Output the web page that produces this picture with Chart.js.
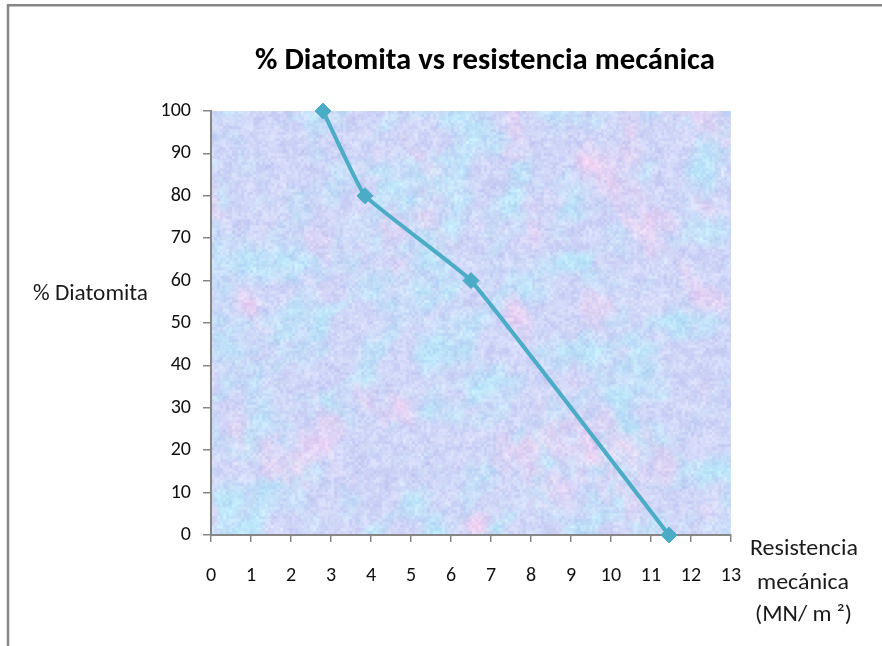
<!DOCTYPE html>
<html>
<head>
<meta charset="utf-8">
<script src="https://cdn.jsdelivr.net/npm/chart.js@4.4.1/dist/chart.umd.min.js"></script>
<style>
  html, body { margin: 0; padding: 0; background: #ffffff; }
  #wrap { width: 882px; height: 646px; position: relative; }
  canvas { display: block; }
</style>
</head>
<body>
<div id="wrap"><canvas id="chart" width="882" height="646"></canvas></div>
<script>
// Resistencia mecánica (MN/m²) for each diatomite percentage
const resistencia = [2.8, 3.85, 6.5, 11.45];
const diatomita = [100, 80, 60, 0];

const chartTitle = '% Diatomita vs resistencia mecánica';
const yTitle = '% Diatomita';
const xTitleLines = ['Resistencia', 'mecánica', '(MN/ m ²)'];

const FONT = 'Carlito, Lato, "Open Sans", sans-serif';
const AXIS_GRAY = '#868686';
const LINE_COLOR = '#4BACC6';

// Mottled blue / lilac / pink tissue texture for the plot area
function makeTissue(w, h) {
  const c = document.createElement('canvas');
  c.width = w; c.height = h;
  const g = c.getContext('2d');
  const img = g.createImageData(w, h);
  const d = img.data;
  function hash(x, y, s) {
    const n = Math.sin(x * 127.1 + y * 311.7 + s * 74.7) * 43758.5453;
    return n - Math.floor(n);
  }
  function noise(x, y, s) {
    const xi = Math.floor(x), yi = Math.floor(y);
    const xf = x - xi, yf = y - yi;
    const u = xf * xf * (3 - 2 * xf), v = yf * yf * (3 - 2 * yf);
    const a = hash(xi, yi, s), b = hash(xi + 1, yi, s);
    const c2 = hash(xi, yi + 1, s), e = hash(xi + 1, yi + 1, s);
    return a + (b - a) * u + (c2 - a) * v + (a - b - c2 + e) * u * v;
  }
  function fbm(x, y, s) {
    let t = 0, amp = 0.5, f = 1;
    for (let o = 0; o < 4; o++) {
      t += amp * noise(x * f, y * f, s + o * 13);
      f *= 2; amp *= 0.5;
    }
    return t / 0.9375;
  }
  const clamp = v => Math.max(0, Math.min(1, v));
  const lav = [208, 214, 247];
  const cyan = [188, 228, 249];
  const pink = [238, 208, 242];
  for (let y = 0; y < h; y++) {
    for (let x = 0; x < w; x++) {
      const hb = fbm(x / 30 + y / 90, y / 30, 1);
      const hp = fbm(x / 38, y / 45 - x / 120, 5);
      const lum = fbm(x / 8, y / 8, 9);
      const grain = hash(Math.floor(x / 3), Math.floor(y / 3), 3);
      const cb = clamp((hb - 0.42) * 3.0);
      const cp = clamp((hp - 0.56) * 3.0);
      let r = lav[0] + (cyan[0] - lav[0]) * cb;
      let gg = lav[1] + (cyan[1] - lav[1]) * cb;
      let b = lav[2] + (cyan[2] - lav[2]) * cb;
      r += (pink[0] - r) * cp;
      gg += (pink[1] - gg) * cp;
      b += (pink[2] - b) * cp;
      const shade = (lum - 0.5) * 30 + (grain - 0.5) * 16;
      const i = (y * w + x) * 4;
      d[i] = clamp((r + shade) / 255) * 255;
      d[i + 1] = clamp((gg + shade) / 255) * 255;
      d[i + 2] = clamp((b + shade * 0.4) / 255) * 255;
      d[i + 3] = 255;
    }
  }
  g.putImageData(img, 0, 0);
  const out = document.createElement('canvas');
  out.width = w; out.height = h;
  const og = out.getContext('2d');
  og.filter = 'blur(0.7px)';
  og.drawImage(c, 0, 0);
  return out;
}

let tissue = null;

// Draws text centred on cx, squeezed horizontally to a given width
function fitText(ctx, text, cx, baseline, width, font, color) {
  ctx.save();
  ctx.font = font;
  ctx.fillStyle = color;
  ctx.textAlign = 'center';
  ctx.textBaseline = 'alphabetic';
  const w = ctx.measureText(text).width;
  ctx.translate(cx, baseline);
  ctx.scale(width / w, 1);
  ctx.fillText(text, 0, 0);
  ctx.restore();
}

const decorations = {
  id: 'decorations',
  beforeDraw(chart) {
    const { ctx, chartArea: a } = chart;
    const w = Math.round(a.right - a.left), h = Math.round(a.bottom - a.top);
    if (!tissue || tissue.width !== w || tissue.height !== h) tissue = makeTissue(w, h);
    ctx.drawImage(tissue, a.left, a.top, w, h);
  },
  afterDraw(chart) {
    const ctx = chart.ctx;
    // outer frame (top and left edges)
    ctx.save();
    ctx.strokeStyle = AXIS_GRAY;
    ctx.lineWidth = 2.5;
    ctx.beginPath();
    ctx.moveTo(8, 646);
    ctx.lineTo(8, 5.3);
    ctx.lineTo(882, 5.3);
    ctx.stroke();
    ctx.restore();

    fitText(ctx, chartTitle, 485, 69, 460, 'bold 30px ' + FONT, '#000000');
    fitText(ctx, yTitle, 90.5, 300, 115, '22px ' + FONT, '#1a1a1a');
    const xs = [[804, 555, 108], [803, 589, 92], [803.5, 621, 97]];
    xTitleLines.forEach((t, i) => {
      fitText(ctx, t, xs[i][0], xs[i][1], xs[i][2], '22px ' + FONT, '#1a1a1a');
    });
  }
};

new Chart(document.getElementById('chart'), {
  type: 'scatter',
  data: {
    datasets: [{
      data: resistencia.map((x, i) => ({ x: x, y: diatomita[i] })),
      showLine: true,
      borderColor: LINE_COLOR,
      backgroundColor: LINE_COLOR,
      borderWidth: 4,
      tension: 0.1,
      pointStyle: 'rectRot',
      pointRadius: 8,
      pointBorderWidth: 1,
      pointBorderColor: LINE_COLOR,
      pointBackgroundColor: LINE_COLOR,
      clip: false
    }]
  },
  options: {
    responsive: false,
    animation: false,
    devicePixelRatio: 1,
    layout: {
      autoPadding: false,
      padding: { top: 111, right: 151, left: 0, bottom: 0 }
    },
    plugins: {
      legend: { display: false },
      title: { display: false },
      tooltip: { enabled: false }
    },
    scales: {
      x: {
        type: 'linear',
        min: 0, max: 13,
        afterFit(scale) { scale.height = 111; },
        ticks: {
          stepSize: 1,
          color: '#111111',
          padding: 22,
          font: { family: FONT, size: 20 }
        },
        grid: {
          drawOnChartArea: false,
          drawTicks: true,
          tickLength: 7,
          color: AXIS_GRAY,
          lineWidth: 1.5
        },
        border: { display: true, color: AXIS_GRAY, width: 2 }
      },
      y: {
        type: 'linear',
        min: 0, max: 100,
        afterFit(scale) { scale.width = 211; },
        ticks: {
          stepSize: 10,
          color: '#111111',
          padding: 12,
          font: { family: FONT, size: 20 }
        },
        grid: {
          drawOnChartArea: false,
          drawTicks: true,
          tickLength: 8,
          color: AXIS_GRAY,
          lineWidth: 1.5
        },
        border: { display: true, color: AXIS_GRAY, width: 2 }
      }
    }
  },
  plugins: [decorations]
});
</script>
</body>
</html>
